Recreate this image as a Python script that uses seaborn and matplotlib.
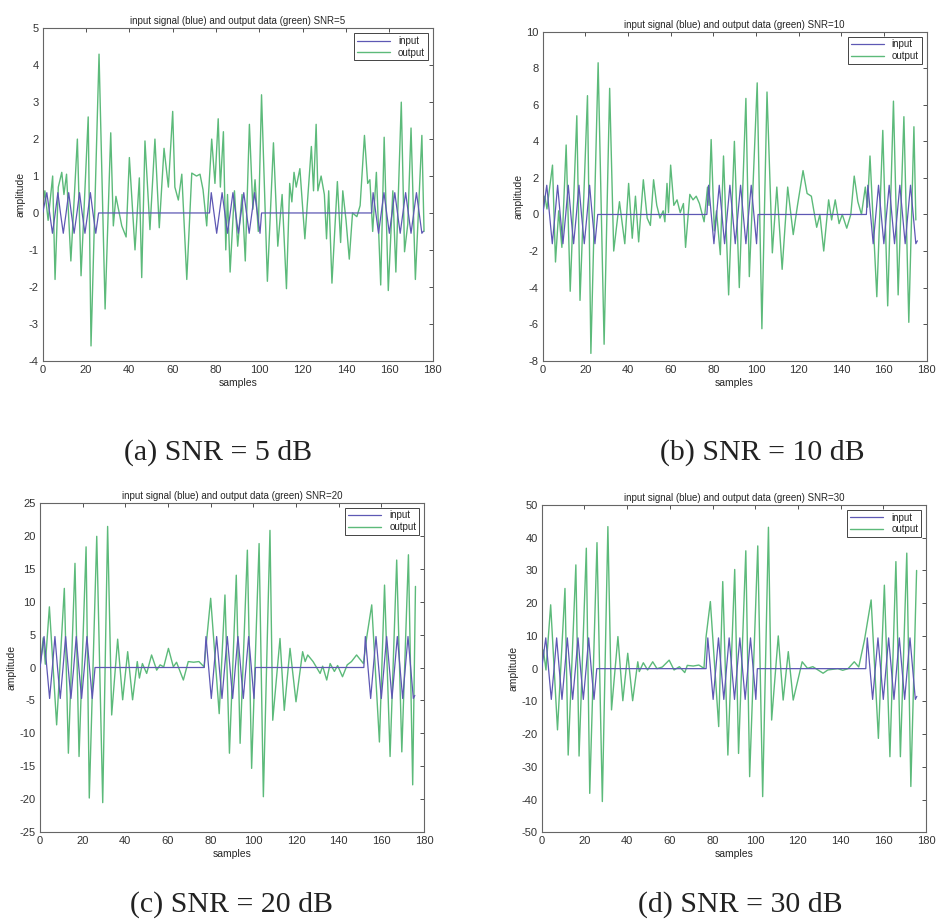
import numpy as np
import pandas as pd
import matplotlib
matplotlib.use("Agg")
import matplotlib.pyplot as plt
import seaborn as sns

# ---------------- data ----------------
snr_values = [5, 10, 20, 30]
captions = ["(a) SNR = 5 dB", "(b) SNR = 10 dB", "(c) SNR = 20 dB", "(d) SNR = 30 dB"]

# input signal turning points (samples) and normalised values, amplitude per panel
input_t = [0, 1.9, 3.2, 4.5, 5.8, 7, 8.2, 9.5, 10.8, 12, 13.2, 14.5, 15.8, 17, 18.2, 19.5,
           20.8, 22, 23.2, 24.5, 25.8, 26.5,
           77, 77.8, 79.05, 80.3, 81.55, 82.8, 84.05, 85.3, 86.55, 87.8, 89.05, 90.3, 91.55,
           92.8, 94.05, 95.3, 96.55, 97.8, 99.05, 100.3, 101,
           151.8, 152.5, 153.75, 155, 156.25, 157.5, 158.75, 160, 161.25, 162.5, 163.75, 165,
           166.25, 167.5, 168.75, 170, 171.25, 172.5, 173.75, 175, 175.7]
input_shape = [0, 1, 0, -1, 0, 1, 0, -1, 0, 1, 0, -1, 0, 1, 0, -1,
               0, 1, 0, -1, 0, 0,
               0, 1, 0, -1, 0, 1, 0, -1, 0, 1, 0, -1, 0,
               1, 0, -1, 0, 1, 0, -1, 0,
               0, 1, 0, -1, 0, 1, 0, -1, 0, 1, 0, -1,
               0, 1, 0, -1, 0, 1, 0, -1, -0.9]
input_amp = [0.55, 1.6, 4.7, 9.4]

out_t_a = [0, 1, 2.5, 4.6, 5.7, 7.2, 8.8, 9.8, 11, 13, 16, 17.7, 21, 22.3, 26, 28.8, 31.4, 32.6,
           33.8, 36.5, 38.5, 40, 42.6, 44.6, 45.7, 47.2, 49.5, 51.8, 53.8, 56, 58, 60, 61, 62.6,
           64.2, 66.5, 68.8, 71, 72.6, 74, 75.7, 78, 79.5, 81, 82, 83.4, 84.5, 85.3, 86.5, 88.5,
           90, 92, 93.5, 95.4, 97, 98, 99.5, 101, 103.7, 106.5, 108.5, 110.5, 112.5, 114, 115,
           116, 117, 118.7, 121, 124, 125, 126.2, 127, 128.5, 130, 131, 132, 133.5, 136, 137.5,
           138.5, 140, 141.5, 143, 145, 146.5, 148.5, 150, 151, 152.3, 154, 156, 157.6, 159.5,
           161.6, 163, 165.5, 167, 168.5, 170, 172, 175, 176]
out_v_a = [0.1, 0.6, -0.2, 1.0, -1.8, 0.7, 1.1, 0.5, 1.05, -1.3, 2.0, -1.7, 2.6, -3.6, 4.3, -2.6,
           2.17, -0.35, 0.45, -0.35, -0.65, 1.5, -1.0, 0.95, -1.75, 1.95, -0.45, 2.0, -0.4, 1.75,
           0.7, 2.75, 0.7, 0.35, 1.05, -1.8, 1.08, 1.0, 1.05, 0.63, -0.35, 2.0, 0.8, 2.55, 0.7,
           2.2, -1.0, 0.5, -1.6, 0.6, -0.9, 0.5, -1.3, 2.4, 0.1, 0.9, -0.5, 3.2, -1.85, 1.9,
           -0.9, 0.5, -2.05, 0.8, 0.3, 1.1, 0.7, 1.2, -0.7, 1.8, 0.6, 2.4, 0.6, 1.0, 0.5, -0.7,
           0.6, -1.9, 0.85, -0.8, 0.6, -0.2, -1.25, 0.0, -0.1, 0.2, 2.1, 0.8, 0.9, -0.5, 1.1,
           -1.95, 2.05, -2.1, 0.6, -1.6, 3.0, -1.05, -0.3, 2.3, -1.8, 2.1, -0.5]

out_t_b = [0, 1, 2, 4.6, 6, 7.5, 9, 11, 12.9, 16, 17.5, 21, 22.6, 26, 28.8, 31.4, 33.3, 36, 38.5,
           40.3, 42, 43.5, 45, 47.2, 49, 50.5, 52, 53.5, 55, 56.5, 57.3, 58.3, 59, 60, 61.5, 63,
           64.5, 66, 67, 69, 70.5, 72, 73.5, 75.7, 77.3, 78, 79, 80.5, 81.5, 83.3, 84.8, 87.2,
           89.9, 92.2, 95.3, 96.9, 100.6, 102.8, 105.2, 107.7, 109.8, 112.3, 114.9, 117.5, 119.5,
           122.1, 124, 126, 128.5, 130, 131.8, 134.1, 135.5, 137.2, 139, 140.5, 142.6, 144.5,
           146.1, 147.8, 149.5, 151.3, 152.3, 153.5, 156.7, 159.5, 161.8, 164.5, 166.7, 169.4,
           171.7, 174.1, 175]
out_v_b = [0, 1.0, 0.3, 2.7, -2.6, 0.2, -1.8, 3.8, -4.2, 5.4, -4.7, 6.5, -7.6, 8.3, -7.1, 6.9,
           -2.0, 0.7, -1.6, 1.7, -1.3, 1.0, -1.5, 1.9, -0.2, -0.6, 1.9, 0.5, -0.2, 0.2, -0.4,
           1.7, 0.1, 2.7, 0.5, 0.8, 0.1, 0.6, -1.8, 1.1, 0.8, 1.0, 0.6, -0.4, 1.5, 0.5, 4.1,
           -0.9, 0.2, -2.2, 3.2, -4.4, 4.0, -4.0, 6.35, -3.4, 7.2, -6.25, 6.7, -2.1, 1.5, -3.0,
           1.5, -1.1, 0.5, 2.4, 1.15, 1.0, -0.7, 0.0, -2.0, 0.8, -0.3, 0.8, -0.5, 0.0, -0.75,
           0.0, 2.1, 0.7, 0.0, 1.5, 0.4, 3.2, -4.5, 4.6, -5.0, 6.2, -4.4, 5.35, -5.9, 4.8, -0.3]

out_t_c = [0, 1.5, 2.5, 4.4, 7.8, 11.4, 13.3, 16.4, 18.3, 21.6, 23.1, 26.6, 29.4, 31.7, 33.6,
           36.4, 38.75, 41.1, 43.4, 45.6, 46.6, 48, 50, 52.3, 54.7, 56.3, 58, 60.2, 62.5, 64,
           67.2, 69.5, 72, 74.5, 76.9, 80, 84, 86.7, 88.8, 92, 93.8, 97.2, 99.2, 102.7, 104.7,
           107.8, 109.1, 112.5, 114.5, 117.2, 120, 123.1, 124.3, 125.5, 128, 131.3, 132.5,
           134.4, 136, 138, 139.5, 141.8, 144, 146, 148.4, 151.6, 153.2, 155.5, 159.1, 161.5,
           164.1, 167.2, 169.6, 172.7, 174.7, 176]
out_v_c = [0, 4.5, 0.5, 9.2, -8.7, 12.0, -13.0, 15.8, -13.5, 18.3, -19.8, 19.9, -20.5, 21.4,
           -7.2, 4.3, -4.9, 2.4, -4.9, 0.9, -1.6, 0.6, -0.9, 1.9, -0.4, 0.4, 0.1, 2.9, 0.1, 0.8,
           -1.9, 0.9, 0.8, 0.9, 0.1, 10.5, -7.0, 11.0, -13.0, 14.0, -11.5, 17.8, -15.3, 18.8,
           -19.6, 20.8, -8.0, 4.4, -6.5, 2.9, -5.2, 2.4, 0.9, 1.9, 0.9, -0.9, 0.2, -1.9, 0.6,
           -0.6, 0.3, -1.4, 0.4, 0.9, 1.9, 0.6, 4.7, 9.5, -11.3, 12.5, -13.5, 16.3, -12.8, 17.1,
           -17.8, 12.3]

out_t_d = [0, 0.8, 2, 4.2, 7.4, 10.9, 12.4, 16, 17.5, 20.9, 22.5, 25.9, 28.4, 31, 32.7, 35.7,
           38, 40.3, 42.6, 45, 45.7, 47.6, 49.6, 52, 54, 56.5, 59.7, 62, 64.5, 67, 68.2, 71,
           73.6, 76, 77, 79, 82.9, 84.8, 87.2, 90.4, 92.2, 95.6, 97.4, 101.2, 103.5, 106.2,
           107.7, 110.8, 113.1, 115.5, 117.8, 122, 124.5, 127, 131.8, 134, 138.7, 141, 143.5,
           146.4, 148.5, 151.2, 154.3, 157.7, 160.5, 163.1, 165.9, 168, 171, 172.9, 175.6]
out_v_d = [0, 5.7, -0.4, 19.5, -18.7, 24.5, -26.4, 31.7, -26.7, 36.8, -38.1, 38.5, -40.6, 43.4,
           -12.6, 9.8, -9.8, 4.7, -9.8, 2.1, -0.9, 1.8, -0.4, 2.1, 0.0, 0.5, 2.6, -0.4, 0.6,
           -1.2, 1.0, 0.8, 1.1, 0.1, 9.8, 20.5, -17.7, 26.6, -26.4, 30.3, -25.9, 36.0, -33.0,
           37.5, -39.1, 43.2, -15.7, 10.0, -9.6, 5.2, -9.6, 2.1, 0.1, 0.6, -1.4, -0.4, 0.0,
           -0.5, 0.0, 2.1, 0.5, 8.8, 21.0, -21.3, 25.5, -26.9, 32.7, -26.9, 35.3, -36.0, 30.0]

out_t = [out_t_a, out_t_b, out_t_c, out_t_d]
out_v = [out_v_a, out_v_b, out_v_c, out_v_d]

y_limits = [(-4, 5), (-8, 10), (-25, 25), (-50, 50)]
y_steps = [1, 2, 5, 10]
x_ticks = [0, 20, 40, 60, 80, 100, 120, 140, 160, 180]

# ---------------- style ----------------
sns.set_style("white")
plt.rcParams['font.family'] = ['Liberation Sans', 'DejaVu Sans']
plt.rcParams['axes.unicode_minus'] = False
plt.rcParams['lines.solid_joinstyle'] = 'round'

W, H = 939, 919
fig = plt.figure(figsize=(W / 100, H / 100), dpi=100)

# axes rectangles in pixels: left, top, right, bottom
rects = [(42.7, 28.3, 432.7, 360.7),
         (542.7, 31.7, 926.5, 360.7),
         (40.0, 502.7, 424.0, 832.3),
         (541.7, 505.0, 926.0, 832.3)]
cap_pos = [(218, 453), (762, 453), (232, 905), (740, 905)]

blue = '#5e58b4'
green = '#5cba7a'

for i in range(4):
    l, t, r, b = rects[i]
    ax = fig.add_axes([l / W, 1 - b / H, (r - l) / W, (b - t) / H])
    amp = input_amp[i]
    in_df = pd.DataFrame({'samples': input_t,
                          'amplitude': [s * amp for s in input_shape]})
    out_df = pd.DataFrame({'samples': out_t[i], 'amplitude': out_v[i]})
    sns.lineplot(data=out_df, x='samples', y='amplitude', ax=ax, color=green,
                 lw=1.0, estimator=None, sort=False, label='output', zorder=2)
    sns.lineplot(data=in_df, x='samples', y='amplitude', ax=ax, color=blue,
                 lw=0.9, estimator=None, sort=False, label='input', zorder=3)
    ax.set_xlim(0, 180)
    ax.set_ylim(*y_limits[i])
    ax.set_xticks(x_ticks)
    ax.set_yticks(np.arange(y_limits[i][0], y_limits[i][1] + 0.001, y_steps[i]))
    ax.tick_params(direction='in', length=3, width=0.6, top=True, right=True,
                   labelsize=8, colors='#333333', pad=3)
    for sp in ax.spines.values():
        sp.set_color('#666666')
        sp.set_linewidth(0.8)
    ax.set_xlabel('samples', fontsize=7.5, labelpad=2)
    ax.set_ylabel('amplitude', fontsize=7.5, labelpad=2)
    ax.set_title(f'input signal (blue) and output data (green) SNR={snr_values[i]}',
                 fontsize=7, pad=3)
    handles, labels = ax.get_legend_handles_labels()
    order = [labels.index('input'), labels.index('output')]
    leg = ax.legend([handles[k] for k in order], [labels[k] for k in order],
                    loc='upper right', fontsize=7, fancybox=False, framealpha=1,
                    edgecolor='#444444', handlelength=3.4, borderpad=0.3,
                    labelspacing=0.15, borderaxespad=0.5)
    leg.get_frame().set_linewidth(0.7)
    fig.text(cap_pos[i][0] / W, 1 - cap_pos[i][1] / H, captions[i],
             fontsize=21.5, family='Liberation Serif', ha='center', va='center',
             color='#222222')

fig.savefig('out.png', dpi=100)
